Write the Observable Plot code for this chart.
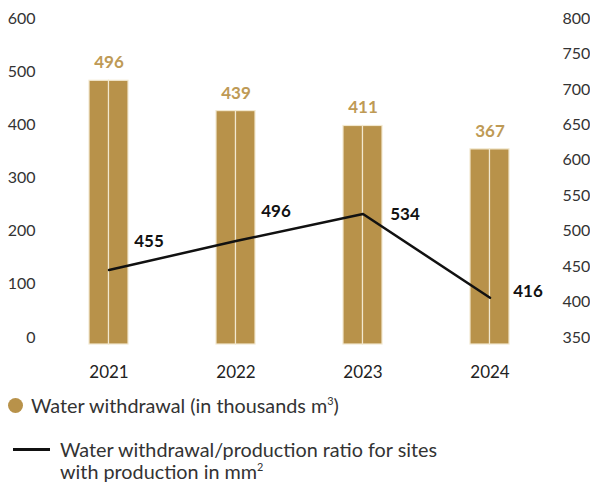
<!DOCTYPE html>
<html>
<head>
<meta charset="utf-8">
<script src="https://cdn.jsdelivr.net/npm/d3@7"></script>
<script src="https://cdn.jsdelivr.net/npm/@observablehq/plot@0.6"></script>
<style>
  body { margin: 0; background: #fff; font-family: Lato, "Open Sans", sans-serif; }
  #chart svg { display: block; }
  .legend { position: relative; height: 99px; color: #333; font-size: 19.8px; }
  .leg1 { position: absolute; left: 8px; top: 8px; display: flex; align-items: center; }
  .dot { width: 15px; height: 15px; border-radius: 50%; background: #B8924A; margin-right: 8px; }
  .leg2 { position: absolute; left: 13px; top: 53px; display: flex; align-items: flex-start; }
  .ln { width: 37px; height: 2.5px; background: #111; margin-top: 10px; margin-right: 10px; }
  .leg2 .txt { line-height: 22px; }
  sup { font-size: 0.55em; vertical-align: 0; position: relative; top: -0.7em; }
</style>
</head>
<body>
<div id="chart"></div>
<div class="legend">
  <div class="leg1"><div class="dot"></div><div>Water withdrawal (in thousands m<sup>3</sup>)</div></div>
  <div class="leg2"><div class="ln"></div><div class="txt">Water withdrawal/production ratio for sites<br>with production in mm<sup>2</sup></div></div>
</div>
<script>
const years = ["2021", "2022", "2023", "2024"];
const withdrawal = [496, 439, 411, 367];
const ratio = [455, 496, 534, 416];
const leftTicks = [0, 100, 200, 300, 400, 500, 600];
const rightTicks = [350, 400, 450, 500, 550, 600, 650, 700, 750, 800];

const gold = "#B8924A";
const cream = "#F2E8CF";
const rMin = 350, rMax = 800, lMax = 600;
const toLeft = v => (v - rMin) * lMax / (rMax - rMin);

const rows = years.map((y, i) => ({year: y, w: withdrawal[i], r: ratio[i], ry: toLeft(ratio[i])}));
const half = 19.5;

const chart = Plot.plot({
  width: 590,
  height: 385,
  marginTop: 25,
  marginBottom: 41,
  marginLeft: 45,
  marginRight: 37,
  style: {fontFamily: "Lato, 'Open Sans', sans-serif", fontSize: "16px", color: "#333", background: "#fff"},
  x: {type: "band", domain: years, paddingInner: 0.695, paddingOuter: 0.337, label: null},
  y: {domain: [0, lMax], label: null},
  marks: [
    Plot.barY(rows, {x: "year", y: "w", fill: gold, stroke: cream, strokeWidth: 1.2, insetRight: half}),
    Plot.barY(rows, {x: "year", y: "w", fill: gold, stroke: cream, strokeWidth: 1.2, insetLeft: half}),
    Plot.text(rows, {x: "year", y: "w", text: d => String(d.w), dy: -18, fill: "#BE9A55", fontWeight: "bold", fontSize: 17}),
    Plot.line(rows, {x: "year", y: "ry", stroke: "#111", strokeWidth: 2.5}),
    Plot.text(rows.slice(0, 2), {x: "year", y: "ry", text: d => String(d.r), dx: 40, dy: -29, fill: "#111", fontWeight: "bold", fontSize: 17}),
    Plot.text(rows.slice(2, 3), {x: "year", y: "ry", text: d => String(d.r), dx: 42, dy: 0, fill: "#111", fontWeight: "bold", fontSize: 17}),
    Plot.text(rows.slice(3), {x: "year", y: "ry", text: d => String(d.r), dx: 38, dy: -6, fill: "#111", fontWeight: "bold", fontSize: 17}),
    Plot.axisX({tickSize: 0, tickPadding: 21, fontSize: 17, fill: "#222", label: null}),
    Plot.axisY(leftTicks, {anchor: "left", tickSize: 0, tickPadding: 10, dy: -7, fontSize: 16, fill: "#333", label: null}),
    Plot.axisY(rightTicks, {anchor: "right", y: d => toLeft(d), text: d => String(d), tickSize: 0, tickPadding: 9, dy: -7, fontSize: 16, fill: "#333", label: null})
  ]
});
document.getElementById("chart").appendChild(chart);
</script>
</body>
</html>
